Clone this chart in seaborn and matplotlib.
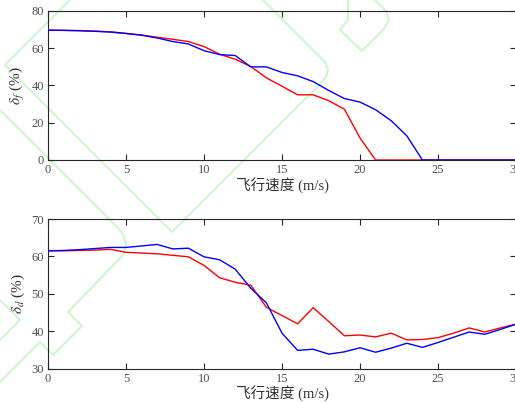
import numpy as np
import pandas as pd
import seaborn as sns
import matplotlib
matplotlib.use("Agg")
import matplotlib.pyplot as plt
from matplotlib.lines import Line2D

# flight speed (m/s)
speed = list(range(31))

# delta_f (%) for the two configurations
df_red = [69.7, 69.6, 69.5, 69.2, 68.8, 68.0, 67.1, 65.9, 64.8, 63.6, 60.9,
          56.8, 54.1, 50.2, 44.1, 39.6, 35.0, 35.0, 31.8, 27.3, 11.8,
          0, 0, 0, 0, 0, 0, 0, 0, 0, 0]
df_blue = [69.7, 69.6, 69.4, 69.1, 68.7, 67.9, 67.0, 65.5, 63.6, 62.3, 58.7,
           56.6, 56.1, 50.0, 50.0, 47.0, 45.2, 42.1, 37.3, 33.0, 31.1,
           27.0, 21.1, 13.0, 0, 0, 0, 0, 0, 0, 0]

# delta_d (%) for the two configurations
dd_red = [61.5, 61.5, 61.6, 61.7, 61.9, 61.1, 60.9, 60.7, 60.3, 59.9, 57.6,
          54.3, 53.1, 52.3, 46.4, 44.2, 42.0, 46.3, 42.6, 38.8, 39.0,
          38.5, 39.5, 37.7, 37.8, 38.3, 39.5, 40.9, 39.8, 40.9, 41.9]
dd_blue = [61.5, 61.6, 61.8, 62.1, 62.4, 62.4, 62.8, 63.2, 62.0, 62.2, 59.9,
           59.1, 56.6, 51.5, 47.6, 39.5, 34.9, 35.2, 33.9, 34.5, 35.6,
           34.4, 35.5, 36.8, 35.7, 37.0, 38.4, 39.8, 39.2, 40.5, 41.9]

xticks = [0, 5, 10, 15, 20, 25, 30]
yticks_f = [0, 20, 40, 60, 80]
yticks_d = [30, 40, 50, 60, 70]
xlabel = "飞行速度 (m/s)"

sns.set_style("ticks")
plt.rcParams["font.family"] = ["Liberation Serif", "Noto Sans CJK SC"]
plt.rcParams["mathtext.fontset"] = "stix"

W, H = 515, 403
fig = plt.figure(figsize=(W / 100, H / 100), dpi=100)
fig.patch.set_facecolor("white")

# light green background logo, in pixel coordinates (x right, y down)
logo_paths = [
    [(72, -2), (5, 65), (172, 232), (320, 84), (326, 77), (328, 70),
     (325, 62), (262, -1)],
    [(0, 110), (118, 228), (124, 236), (126, 245), (123, 255),
     (68, 312), (82, 326), (53, 355), (40, 342), (0, 382)],
    [(0, 300), (20, 320), (0, 340)],
    [(348, -1), (348, 20), (340, 30), (362, 51), (384, 29), (389, 20),
     (386, 11), (375, 0)],
]
for p in logo_paths:
    xs = [q[0] / W for q in p]
    ys = [1 - q[1] / H for q in p]
    fig.add_artist(Line2D(xs, ys, color="#c9f7c9", lw=1.4, zorder=-1,
                          solid_joinstyle="round"))

ax1 = fig.add_axes([48 / W, 1 - 160 / H, 468 / W, 149 / H])
ax2 = fig.add_axes([48 / W, 1 - 368.7 / H, 468 / W, 149.7 / H])

top = pd.DataFrame({"v": speed * 2, "val": df_red + df_blue,
                    "s": ["a"] * 31 + ["b"] * 31})
bot = pd.DataFrame({"v": speed * 2, "val": dd_red + dd_blue,
                    "s": ["a"] * 31 + ["b"] * 31})
pal = {"a": "#ff0000", "b": "#0000ff"}

for ax, data, yt, lab in [(ax1, top, yticks_f, r"$\delta_f$ (%)"),
                          (ax2, bot, yticks_d, r"$\delta_d$ (%)")]:
    ax.set_facecolor("none")
    sns.lineplot(data=data, x="v", y="val", hue="s", palette=pal, ax=ax,
                 linewidth=1.0, legend=False, zorder=3)
    ax.set_xlim(0, 30)
    ax.set_ylim(yt[0], yt[-1])
    ax.set_xticks(xticks)
    ax.set_yticks(yt)
    ax.tick_params(direction="in", length=4, width=0.8, top=True, right=True,
                   labelsize=9, labelcolor="#505050", color="#262626",
                   pad=3)
    for sp in ax.spines.values():
        sp.set_visible(True)
        sp.set_linewidth(0.8)
        sp.set_color("#262626")
    ax.set_xlabel(xlabel, fontsize=10.5, color="#333333", labelpad=1,
                  family=["Liberation Serif", "Noto Sans CJK SC"])
    ax.set_ylabel(lab, fontsize=11, color="#333333", labelpad=3)

fig.savefig("out.png", dpi=100, facecolor="white")
